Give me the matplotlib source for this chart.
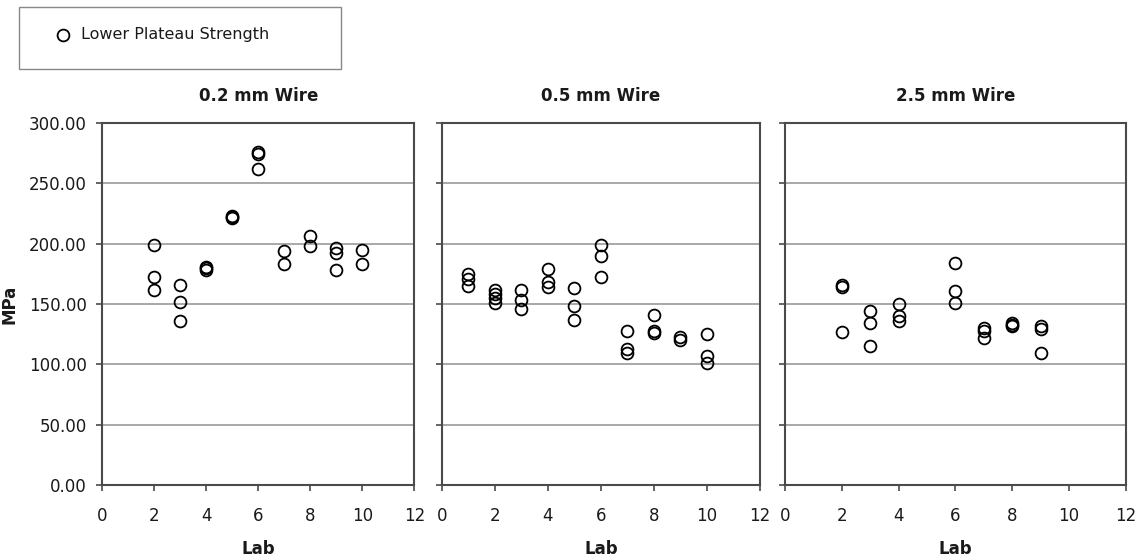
import matplotlib
matplotlib.use("Agg")
import matplotlib.pyplot as plt
from matplotlib.lines import Line2D
from matplotlib.patches import Rectangle

# ---- data ----
titles = ["0.2 mm Wire", "0.5 mm Wire", "2.5 mm Wire"]

labs_02 = [2, 2, 2, 3, 3, 3, 4, 4, 4, 5, 5, 5, 6, 6, 6, 7, 7, 8, 8, 9, 9, 9, 10, 10]
vals_02 = [199, 172, 162, 166, 152, 136, 181, 180, 178, 223, 222, 221,
           276, 274, 262, 194, 183, 206, 198, 196, 192, 178, 195, 183]

labs_05 = [1, 1, 1, 2, 2, 2, 2, 3, 3, 3, 4, 4, 4, 5, 5, 5, 6, 6, 6,
           7, 7, 7, 8, 8, 8, 9, 9, 10, 10, 10]
vals_05 = [175, 171, 165, 162, 158, 155, 151, 162, 153, 146, 179, 168, 164,
           163, 148, 137, 199, 190, 172, 128, 113, 109, 141, 128, 126,
           123, 120, 125, 107, 101]

labs_25 = [2, 2, 2, 3, 3, 3, 4, 4, 4, 6, 6, 6, 7, 7, 7, 8, 8, 8, 9, 9, 9]
vals_25 = [166, 164, 127, 144, 134, 115, 150, 140, 136, 184, 161, 151,
           130, 128, 122, 134, 133, 132, 132, 129, 109]

x_ticks = [0, 2, 4, 6, 8, 10, 12]
y_ticks = [0, 50, 100, 150, 200, 250, 300]
legend_label = "Lower Plateau Strength"

panels = [(labs_02, vals_02), (labs_05, vals_05), (labs_25, vals_25)]

# ---- figure ----
plt.rcParams['font.family'] = ['DejaVu Sans']
fig = plt.figure(figsize=(11.42, 5.6), dpi=100)

frame_col = '#4a4a4a'
grid_col = '#9a9a9a'
text_col = '#1a1a1a'

bottom = 0.1339
top = 0.7804
boxes = [(0.0896, 0.3628), (0.3870, 0.6655), (0.6874, 0.9857)]

for i, ((l, r), (xs, ys), title) in enumerate(zip(boxes, panels, titles)):
    ax = fig.add_axes([l, bottom, r - l, top - bottom])
    ax.set_xlim(0, 12)
    ax.set_ylim(0, 300)
    ax.set_xticks(x_ticks)
    ax.set_yticks(y_ticks)
    ax.yaxis.grid(True, color=grid_col, linewidth=1.2)
    ax.set_axisbelow(True)
    ax.plot(xs, ys, linestyle='none', marker='o', markersize=8.5,
            markerfacecolor='none', markeredgecolor='black',
            markeredgewidth=1.3, zorder=3, clip_on=False)
    for sp in ax.spines.values():
        sp.set_color(frame_col)
        sp.set_linewidth(1.5)
    ax.tick_params(axis='both', direction='out', length=4.5, width=1.2,
                   color=frame_col, labelsize=12, labelcolor=text_col)
    ax.tick_params(axis='x', pad=11)
    ax.tick_params(axis='y', pad=6.5)
    if i == 0:
        ax.set_yticklabels([f"{v:.2f}" for v in y_ticks])
        ax.set_ylabel("MPa", fontsize=12, fontweight='bold', color=text_col,
                      labelpad=8)
    else:
        ax.set_yticklabels([])
    ax.set_xlabel("Lab", fontsize=12, fontweight='bold', color=text_col,
                  labelpad=11)
    ax.set_title(title, fontsize=12, fontweight='bold', color=text_col, pad=16)

# ---- legend box ----
fig.add_artist(Rectangle((0.0169, 0.876), 0.2814, 0.111,
                         transform=fig.transFigure, fill=False,
                         edgecolor='#888888', linewidth=1.0))
fig.add_artist(Line2D([0.0552], [0.9375], transform=fig.transFigure,
                      linestyle='none', marker='o', markersize=8.5,
                      markerfacecolor='none', markeredgecolor='black',
                      markeredgewidth=1.3))
fig.text(0.0712, 0.9375, legend_label, fontsize=11.5, va='center',
         ha='left', color=text_col)

fig.savefig("out.png", dpi=100)
